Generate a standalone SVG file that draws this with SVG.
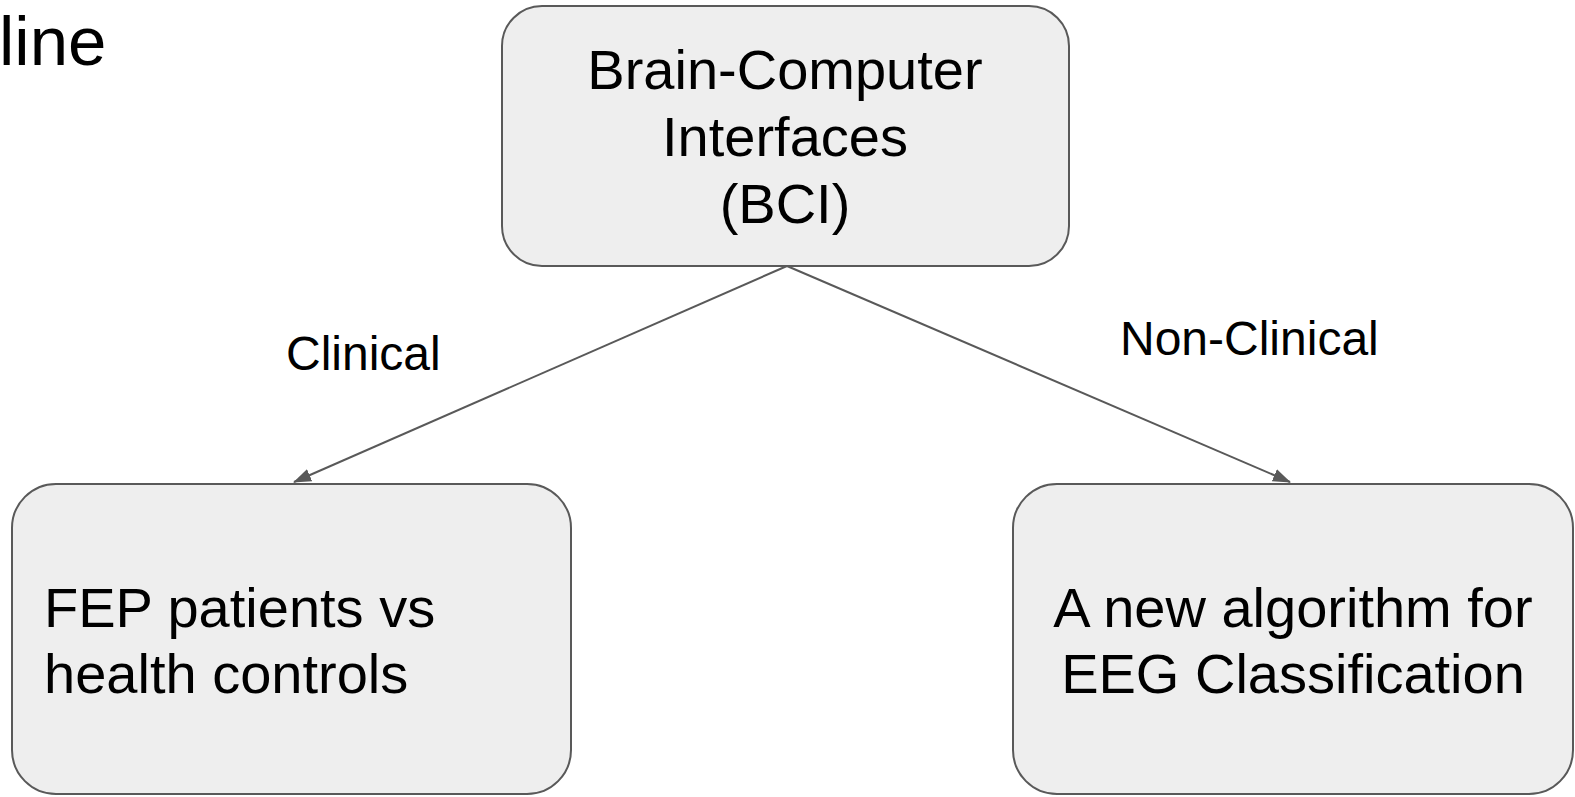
<svg xmlns="http://www.w3.org/2000/svg" width="1575" height="797" viewBox="0 0 1575 797">
<style>
.box{fill:#eeeeee;stroke:#595959;stroke-width:2}
.t{font-family:"Liberation Sans",Arial,sans-serif;fill:#000}
.edge{stroke:#595959;stroke-width:2;fill:none}
</style>
<defs>
<marker id="ah" markerWidth="18" markerHeight="14" refX="17" refY="7" orient="auto" markerUnits="userSpaceOnUse" viewBox="0 0 18 14">
<path d="M0,0.5 L18,7 L0,13.5 Z" fill="#595959"/>
</marker>
</defs>
<rect width="1575" height="797" fill="#ffffff"/>
<text class="t" x="-1" y="65" font-size="69">line</text>
<g id="edges">
<line class="edge" x1="787" y1="266" x2="294" y2="482" marker-end="url(#ah)"/>
<line class="edge" x1="787" y1="266" x2="1290" y2="482" marker-end="url(#ah)"/>
<text class="t" x="286" y="370" font-size="48">Clinical</text>
<text class="t" x="1120" y="355" font-size="48">Non-Clinical</text>
</g>
<g id="bci">
<rect class="box" x="502" y="6" width="567" height="260" rx="40" ry="40"/>
<text class="t" x="785" y="89" font-size="56" text-anchor="middle">Brain-Computer</text>
<text class="t" x="785" y="156" font-size="56" text-anchor="middle">Interfaces</text>
<text class="t" x="785" y="223" font-size="56" text-anchor="middle">(BCI)</text>
</g>
<g id="clinical">
<rect class="box" x="12" y="484" width="559" height="310" rx="44" ry="44"/>
<text class="t" x="44" y="627" font-size="56">FEP patients vs</text>
<text class="t" x="44" y="693" font-size="56">health controls</text>
</g>
<g id="nonclinical">
<rect class="box" x="1013" y="484" width="560" height="310" rx="44" ry="44"/>
<text class="t" x="1293" y="627" font-size="56" text-anchor="middle">A new algorithm for</text>
<text class="t" x="1293" y="693" font-size="56" text-anchor="middle">EEG Classification</text>
</g>
</svg>
